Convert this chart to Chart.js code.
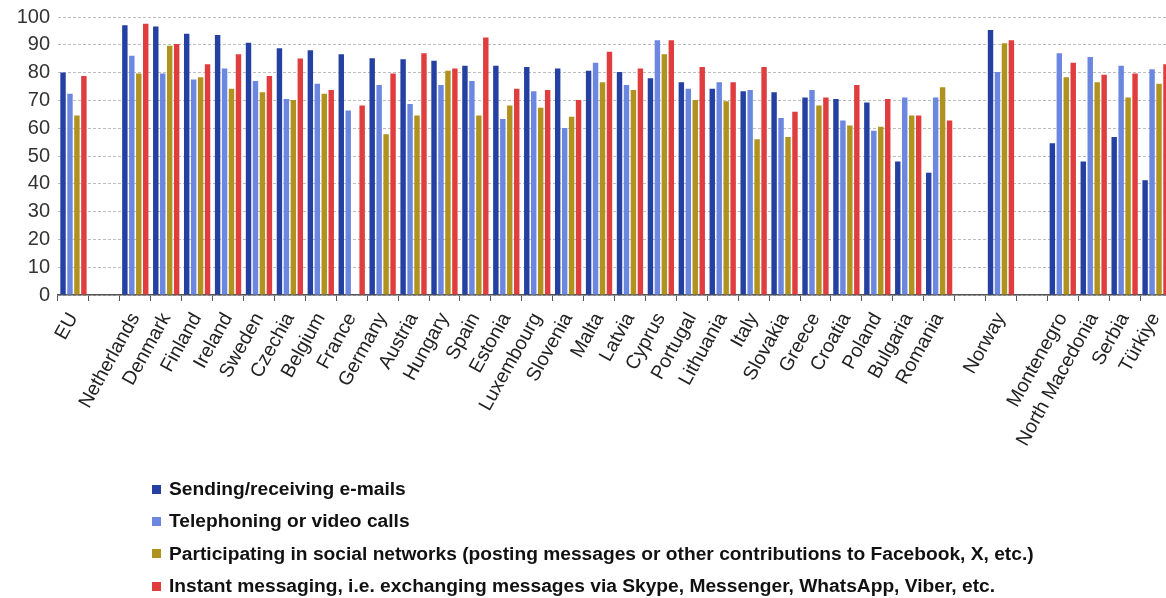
<!DOCTYPE html>
<html>
<head>
<meta charset="utf-8">
<script src="https://cdn.jsdelivr.net/npm/chart.js@4.4.1/dist/chart.umd.min.js"></script>
<style>
  html, body { margin: 0; padding: 0; background: #fff; overflow: hidden; }
  #wrap { position: relative; width: 1172px; height: 598px; }
  #legend { position: absolute; left: 152px; top: 473px; font: bold 19.2px "Liberation Sans", Arial, sans-serif; color: #111; }
  .item { display: flex; align-items: center; height: 32.3px; white-space: nowrap; }
  .sw { width: 9px; height: 9px; margin-right: 8px; flex: none; }
</style>
</head>
<body>
<div id="wrap">
  <canvas id="myChart" width="1172" height="598"></canvas>
  <div id="legend"></div>
</div>
<script>
// '' entries are the empty slots between country groups
const categories = ['EU', '', 'Netherlands', 'Denmark', 'Finland', 'Ireland', 'Sweden', 'Czechia', 'Belgium',
  'France', 'Germany', 'Austria', 'Hungary', 'Spain', 'Estonia', 'Luxembourg', 'Slovenia', 'Malta', 'Latvia',
  'Cyprus', 'Portugal', 'Lithuania', 'Italy', 'Slovakia', 'Greece', 'Croatia', 'Poland', 'Bulgaria', 'Romania',
  '', 'Norway', '', 'Montenegro', 'North Macedonia', 'Serbia', 'Türkiye'];

const emails = [80, null, 97, 96.6, 94, 93.5, 90.7, 88.8, 88, 86.6, 85.2, 84.8, 84.3, 82.5, 82.5, 82, 81.5,
  80.7, 80.2, 78, 76.5, 74.2, 73.3, 72.9, 71, 70.5, 69.2, 48, 44, null, 95.3, null, 54.6, 48, 56.8, 41.3];
const calls = [72.4, null, 86.1, 79.7, 77.5, 81.5, 77, 70.5, 76, 66.4, 75.5, 68.7, 75.5, 77, 63.3, 73.3, 60.1,
  83.5, 75.5, 91.6, 74.2, 76.5, 73.7, 63.7, 73.7, 62.8, 59.1, 71, 71, null, 80.2, null, 87, 85.6, 82.5, 81.2];
const social = [64.6, null, 79.7, 89.7, 78.3, 74.2, 72.9, 70.1, 72.4, null, 57.8, 64.6, 80.7, 64.6, 68.2, 67.4, 64.1,
  76.5, 73.7, 86.6, 70.1, 69.7, 56, 56.8, 68.2, 61, 60.5, 64.6, 74.7, null, 90.6, null, 78.3, 76.5, 71, 76];
const instant = [78.8, null, 97.6, 90.3, 83, 86.6, 78.8, 85.1, 73.7, 68.2, 79.7, 87, 81.5, 92.6, 74.2, 73.7, 70.1,
  87.5, 81.5, 91.6, 82, 76.5, 82, 65.9, 71, 75.5, 70.5, 64.6, 62.8, null, 91.6, null, 83.5, 79.2, 79.7, 83];

const seriesNames = [
  'Sending/receiving e-mails',
  'Telephoning or video calls',
  'Participating in social networks (posting messages or other contributions to Facebook, X, etc.)',
  'Instant messaging, i.e. exchanging messages via Skype, Messenger, WhatsApp, Viber, etc.'
];
const colors = ['#2441A2', '#6C87DF', '#B0921F', '#E03D3F'];
const yTicks = [0, 10, 20, 30, 40, 50, 60, 70, 80, 90, 100];

const ctx = document.getElementById('myChart');
const allSeries = [emails, calls, social, instant];
const font = '"Liberation Sans", Arial, sans-serif';

const chart = new Chart(ctx, {
  type: 'bar',
  data: {
    labels: categories,
    datasets: allSeries.map((d, i) => ({
      label: seriesNames[i],
      data: d,
      backgroundColor: colors[i],
      borderWidth: 0,
      categoryPercentage: 0.9,
      barPercentage: 0.78
    }))
  },
  options: {
    responsive: false,
    animation: false,
    layout: { padding: { top: 17, right: 1, left: 0, bottom: 0 } },
    plugins: { legend: { display: false }, tooltip: { enabled: false } },
    scales: {
      x: {
        afterFit: (scale) => {
          scale.height = 598 - 295;
          scale.paddingLeft = 0;
          scale.paddingRight = 0;
        },
        border: { color: '#555', width: 1.5 },
        grid: { drawOnChartArea: false, drawTicks: true, tickLength: 6, color: '#555', offset: true },
        ticks: {
          autoSkip: false, maxRotation: 61, minRotation: 61, color: '#222', padding: 8,
          font: { family: font, size: 19.5 }
        }
      },
      y: {
        min: 0, max: 100,
        afterFit: (scale) => {
          scale.width = 58;
          scale.paddingTop = 0;
          scale.paddingBottom = 0;
        },
        afterBuildTicks: (scale) => { scale.ticks = yTicks.map(v => ({ value: v })); },
        border: { display: false, dash: [3, 2] },
        grid: { color: '#bdbdbd', lineWidth: 1, drawTicks: false },
        ticks: {
          color: '#333', padding: 8,
          font: { family: font, size: 20 }
        }
      }
    }
  }
});

// legend, one row per series
const legendEl = document.getElementById('legend');
chart.data.datasets.forEach(ds => {
  const row = document.createElement('div');
  row.className = 'item';
  const sw = document.createElement('span');
  sw.className = 'sw';
  sw.style.background = ds.backgroundColor;
  const txt = document.createElement('span');
  txt.textContent = ds.label;
  row.appendChild(sw);
  row.appendChild(txt);
  legendEl.appendChild(row);
});
</script>
</body>
</html>
